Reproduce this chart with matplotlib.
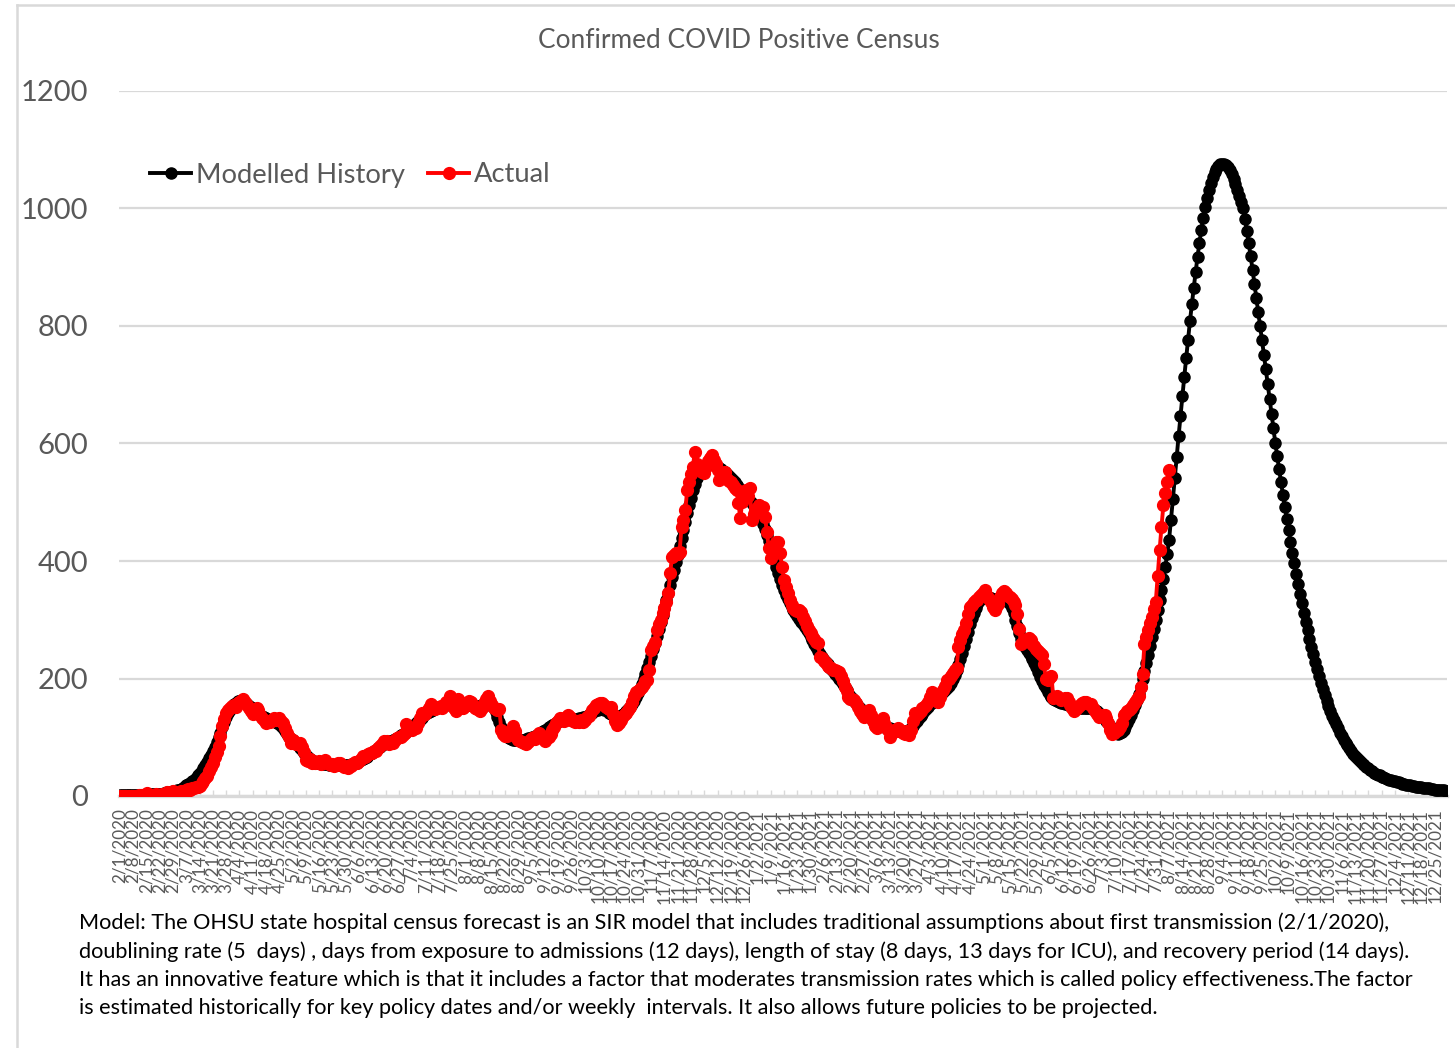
import numpy as np
import pandas as pd
import matplotlib
matplotlib.use("Agg")
import matplotlib.pyplot as plt
from matplotlib.lines import Line2D

# ---- data (daily census, one row per week) ----
TITLE = "Confirmed COVID Positive Census"
START_DATE = "2020-02-01"
SERIES_NAMES = ["Modelled History", "Actual"]
Y_TICKS = [0, 200, 400, 600, 800, 1000, 1200]

modelled = [
    1, 1, 1, 1, 1, 1, 1,
    1, 1, 1, 2, 2, 2, 2,
    2, 2, 3, 3, 3, 3, 4,
    4, 4, 5, 5, 6, 6, 7,
    8, 9, 10, 11, 12, 14, 16,
    18, 20, 22, 25, 28, 31, 35,
    39, 43, 48, 53, 58, 64, 70,
    77, 84, 92, 100, 108, 117, 126,
    134, 141, 147, 152, 156, 159, 161,
    162, 162, 161, 159, 157, 154, 151,
    148, 145, 142, 140, 138, 136, 134,
    132, 130, 129, 128, 127, 126, 124,
    122, 119, 115, 111, 106, 101, 97,
    95, 92, 89, 86, 82, 78, 74,
    70, 66, 63, 61, 59, 58, 57,
    56, 55, 55, 54, 54, 53, 53,
    53, 52, 52, 52, 52, 52, 52,
    52, 52, 53, 54, 55, 56, 57,
    59, 61, 63, 65, 67, 69, 71,
    74, 76, 78, 81, 83, 86, 88,
    90, 91, 93, 94, 96, 97, 99,
    101, 103, 105, 107, 109, 112, 115,
    118, 121, 124, 127, 130, 133, 136,
    139, 141, 143, 145, 147, 149, 150,
    151, 152, 153, 154, 155, 156, 157,
    157, 157, 157, 157, 156, 156, 156,
    156, 155, 155, 155, 154, 154, 154,
    154, 154, 155, 155, 156, 156, 155,
    153, 149, 143, 135, 126, 118, 111,
    106, 102, 99, 97, 96, 95, 95,
    95, 95, 96, 96, 97, 98, 99,
    100, 101, 102, 104, 106, 108, 110,
    112, 114, 117, 119, 121, 123, 125,
    127, 128, 129, 130, 130, 131, 131,
    131, 131, 131, 131, 132, 133, 134,
    135, 136, 138, 140, 142, 144, 146,
    147, 148, 148, 147, 146, 144, 142,
    140, 138, 137, 136, 136, 137, 139,
    141, 144, 148, 152, 157, 162, 168,
    175, 182, 190, 199, 208, 218, 228,
    239, 250, 261, 272, 284, 296, 308,
    320, 333, 346, 359, 372, 385, 398,
    411, 425, 439, 453, 467, 481, 495,
    508, 520, 531, 541, 549, 555, 559,
    562, 564, 565, 565, 565, 564, 562,
    560, 558, 556, 554, 551, 548, 545,
    542, 538, 534, 530, 526, 522, 518,
    514, 510, 506, 502, 498, 494, 489,
    484, 478, 471, 463, 454, 444, 434,
    423, 412, 401, 390, 379, 369, 359,
    350, 342, 335, 328, 322, 317, 312,
    307, 302, 297, 292, 287, 282, 277,
    271, 265, 259, 253, 247, 242, 237,
    232, 228, 224, 220, 216, 212, 208,
    204, 200, 195, 190, 185, 180, 175,
    170, 166, 162, 158, 154, 150, 147,
    144, 141, 138, 135, 132, 130, 128,
    126, 124, 122, 120, 118, 117, 116,
    115, 114, 113, 112, 111, 110, 110,
    110, 110, 111, 113, 116, 120, 124,
    128, 132, 136, 140, 144, 148, 152,
    156, 159, 162, 165, 168, 171, 174,
    177, 180, 184, 188, 193, 199, 206,
    214, 223, 233, 244, 256, 268, 280,
    292, 303, 312, 320, 327, 332, 336,
    338, 339, 339, 338, 337, 336, 335,
    334, 334, 334, 334, 334, 333, 331,
    327, 320, 311, 300, 289, 278, 268,
    260, 254, 249, 244, 239, 233, 226,
    219, 211, 203, 196, 189, 183, 177,
    172, 168, 165, 163, 161, 160, 159,
    158, 157, 156, 155, 154, 153, 152,
    151, 151, 150, 150, 150, 150, 150,
    150, 149, 148, 146, 144, 141, 138,
    135, 132, 128, 124, 119, 114, 110,
    107, 106, 107, 109, 113, 118, 124,
    131, 138, 146, 155, 164, 174, 186,
    199, 212, 226, 240, 255, 270, 285,
    300, 316, 333, 351, 370, 390, 412,
    436, 470, 505, 541, 577, 612, 646,
    680, 713, 745, 777, 808, 837, 865,
    892, 918, 942, 964, 984, 1002, 1018,
    1032, 1044, 1054, 1062, 1068, 1072, 1075,
    1076, 1076, 1074, 1071, 1066, 1059, 1050,
    1041, 1032, 1022, 1011, 1000, 982, 962,
    941, 919, 896, 872, 848, 824, 800,
    776, 751, 726, 701, 676, 651, 626,
    601, 578, 556, 534, 513, 492, 472,
    452, 433, 414, 396, 378, 361, 344,
    328, 312, 297, 282, 268, 254, 241,
    228, 216, 204, 193, 182, 172, 162,
    153, 145, 137, 129, 122, 115, 108,
    102, 96, 91, 86, 81, 76, 72,
    68, 64, 61, 58, 55, 52, 49,
    47, 44, 42, 40, 38, 36, 35,
    33, 32, 30, 29, 28, 27, 26,
    25, 24, 23, 22, 21, 20, 19,
    19, 18, 17, 17, 16, 16, 15,
    15, 14, 14, 13, 13, 12, 12,
    11, 11, 11, 10, 10, 10, 9,
]

actual = [
    0, 0, 0, 0, 0, 0, 0,
    0, 0, 0, 1, 1, 1, 2,
    5, 2, 1, 1, 2, 3, 2,
    2, 3, 4, 3, 6, 5, 4,
    8, 6, 5, 7, 9, 4, 8,
    10, 12, 11, 14, 13, 15, 16,
    17, 22, 26, 30, 34, 42, 50,
    57, 66, 75, 85, 102, 119, 131,
    142, 146, 150, 153, 155, 152, 158,
    160, 162, 165, 160, 155, 150, 145,
    139, 147, 150, 146, 138, 132, 130,
    125, 128, 126, 130, 132, 129, 131,
    133, 128, 124, 116, 108, 100, 91,
    95, 90, 88, 91, 91, 84, 75,
    62, 60, 63, 57, 59, 56, 58,
    60, 55, 58, 62, 57, 54, 52,
    55, 51, 53, 56, 57, 52, 50,
    49, 48, 52, 51, 55, 58, 57,
    60, 63, 68, 66, 70, 72, 74,
    73, 76, 77, 82, 85, 89, 94,
    90, 93, 88, 92, 91, 95, 98,
    101, 100, 104, 107, 122, 118, 116,
    112, 116, 116, 125, 133, 142, 138,
    140, 145, 150, 156, 152, 148, 150,
    152, 153, 150, 155, 160, 158, 170,
    160, 150, 145, 165, 160, 156, 150,
    153, 158, 162, 160, 155, 150, 148,
    150, 145, 150, 158, 165, 170, 162,
    155, 150, 148, 146, 148, 113, 105,
    102, 102, 108, 112, 119, 110, 100,
    96, 94, 92, 90, 88, 92, 95,
    98, 100, 97, 102, 108, 104, 100,
    94, 98, 101, 106, 112, 118, 124,
    128, 132, 130, 128, 134, 138, 135,
    130, 128, 126, 127, 126, 129, 126,
    130, 134, 136, 140, 146, 150, 155,
    156, 158, 158, 155, 152, 150, 148,
    152, 140, 128, 121, 125, 130, 136,
    139, 141, 146, 152, 160, 170, 177,
    178, 182, 186, 190, 195, 197, 215,
    248, 255, 262, 283, 292, 300, 311,
    320, 330, 345, 379, 407, 410, 414,
    412, 416, 458, 470, 487, 521, 535,
    548, 560, 586, 565, 560, 555, 552,
    549, 560, 570, 575, 580, 572, 565,
    555, 538, 545, 550, 552, 540, 536,
    535, 530, 525, 520, 498, 473, 500,
    515, 520, 510, 524, 470, 480, 485,
    490, 495, 492, 492, 475, 450, 422,
    405, 415, 425, 433, 433, 413, 390,
    368, 355, 345, 334, 325, 320, 317,
    315, 316, 314, 305, 298, 290, 283,
    278, 272, 268, 262, 260, 237, 235,
    230, 226, 222, 220, 218, 215, 214,
    212, 211, 205, 195, 185, 178, 169,
    165, 165, 163, 158, 152, 145, 140,
    135, 140, 145, 146, 138, 128, 120,
    115, 122, 128, 132, 125, 118, 112,
    101, 108, 112, 110, 115, 112, 110,
    108, 106, 110, 104, 112, 128, 141,
    138, 142, 145, 150, 152, 155, 160,
    168, 177, 170, 165, 160, 168, 175,
    180, 188, 197, 200, 205, 210, 215,
    218, 254, 265, 275, 283, 295, 310,
    322, 325, 330, 334, 334, 338, 342,
    345, 351, 340, 335, 330, 322, 317,
    322, 327, 338, 345, 349, 345, 340,
    338, 335, 330, 325, 309, 285, 258,
    262, 266, 268, 269, 265, 258, 255,
    250, 246, 244, 240, 225, 200, 198,
    202, 204, 167, 168, 170, 166, 164,
    165, 166, 167, 160, 155, 150, 145,
    148, 152, 155, 158, 160, 160, 158,
    156, 156, 150, 145, 140, 135, 137,
    138, 138, 132, 125, 112, 105, 108,
    110, 113, 118, 125, 138, 140, 145,
    147, 149, 155, 160, 165, 171, 185,
    207, 258, 270, 282, 295, 305, 318,
    331, 375, 418, 458, 495, 515, 535,
    555,
]

NOTE_LINES = [
    "Model: The OHSU state hospital census forecast is an SIR model that includes traditional assumptions about first transmission (2/1/2020),",
    "doublining rate (5  days) , days from exposure to admissions (12 days), length of stay (8 days, 13 days for ICU), and recovery period (14 days).",
    "It has an innovative feature which is that it includes a factor that moderates transmission rates which is called policy effectiveness.The factor",
    "is estimated historically for key policy dates and/or weekly  intervals. It also allows future policies to be projected.",
]

# ---- style ----
plt.rcParams['font.family'] = ['Lato', 'DejaVu Sans']
GRAY_TEXT = '#595959'
GRID = '#d9d9d9'
W, H = 1455, 1048

dates = pd.date_range(START_DATE, periods=len(modelled), freq='D')
tick_pos = np.arange(0, len(dates), 7)
tick_labels = [f"{d.month}/{d.day}/{d.year}" for d in dates[tick_pos]]

fig = plt.figure(figsize=(W / 100, H / 100), dpi=100)
ax = fig.add_axes([119 / W, 1 - 796 / H, (1447 - 119) / W, (796 - 91) / H])

x_m = np.arange(len(modelled))
x_a = np.arange(len(actual))
ax.plot(x_m, modelled, color='black', lw=2.8, marker='o', ms=8,
        label=SERIES_NAMES[0], zorder=3)
ax.plot(x_a, actual, color='red', lw=2.8, marker='o', ms=8.5,
        label=SERIES_NAMES[1], zorder=4)

ax.set_xlim(-0.5, len(modelled) - 0.5)
ax.set_ylim(0, 1200)
ax.set_yticks(Y_TICKS)
ax.set_yticklabels([str(v) for v in Y_TICKS])
ax.grid(axis='y', color=GRID, lw=1.6, zorder=0)
ax.set_axisbelow(True)
for s in ['top', 'right', 'left']:
    ax.spines[s].set_visible(False)
ax.spines['bottom'].set_color(GRID)
ax.spines['bottom'].set_linewidth(2.4)

ax.tick_params(axis='y', length=0, pad=22, labelsize=21, labelcolor=GRAY_TEXT)
ax.set_xticks(tick_pos)
ax.set_xticklabels(tick_labels, rotation=90, va='top', ha='center')
ax.tick_params(axis='x', direction='in', length=4, width=1, color=GRID,
               pad=9, labelsize=12.3, labelcolor=GRAY_TEXT)

fig.text(739 / W, 1 - 41 / H, TITLE, ha='center', va='center',
         fontsize=18.9, color=GRAY_TEXT)

leg = ax.legend(loc='center left', bbox_to_anchor=(150 / W, 1 - 175 / H),
                bbox_transform=fig.transFigure, ncol=2, frameon=False,
                fontsize=19.7, handlelength=1.5, handletextpad=0.18,
                columnspacing=0.85, borderpad=0, borderaxespad=0)
for t in leg.get_texts():
    t.set_color(GRAY_TEXT)

for i, line in enumerate(NOTE_LINES):
    fig.text(79 / W, 1 - (923 + i * 28.5) / H, line, ha='left', va='center',
             fontsize=15.6, color='black')

# chart border (left and top edges visible)
fig.add_artist(Line2D([17 / W, 17 / W], [0, 1 - 5 / H], color=GRID, lw=1.8))
fig.add_artist(Line2D([17 / W, 1], [1 - 5 / H, 1 - 5 / H], color=GRID, lw=1.8))

fig.savefig('out.png', dpi=100)
